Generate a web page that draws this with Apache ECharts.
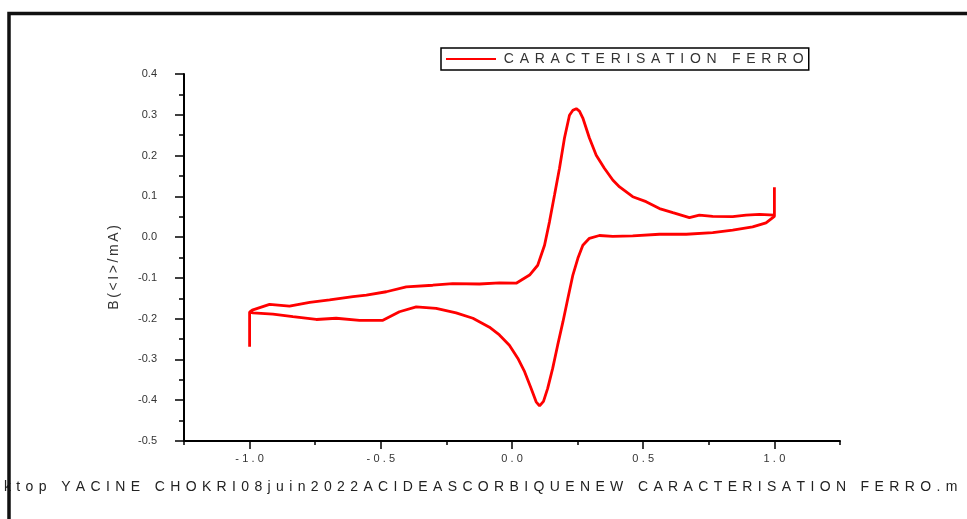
<!DOCTYPE html>
<html>
<head>
<meta charset="utf-8">
<script src="https://cdn.jsdelivr.net/npm/echarts@6.0.0/dist/echarts.min.js"></script>
<style>
  html, body { margin: 0; padding: 0; background: #fff; }
  #chart { width: 967px; height: 519px; }
</style>
</head>
<body>
<div id="chart"></div>
<script>
//--------------------- Data ---------------------------//
const seriesName = 'CARACTERISATION FERRO';
const yAxisName = 'B(<I>/mA)';
const filePath = 'ktop YACINE CHOKRI08juin2022ACIDEASCORBIQUENEW CARACTERISATION FERRO.m';

// start transient at -1.0 V
const startSpike = [[-1.0, -0.269], [-1.0, -0.184]];

// forward (anodic) scan, -1.0 -> 1.0
const forwardScan = [
  [-0.99, -0.179], [-0.924, -0.165], [-0.848, -0.169], [-0.771, -0.160],
  [-0.695, -0.154], [-0.606, -0.146], [-0.555, -0.142], [-0.479, -0.134],
  [-0.403, -0.122], [-0.302, -0.118], [-0.226, -0.114], [-0.124, -0.115],
  [-0.048, -0.112], [0.016, -0.113], [0.067, -0.093], [0.098, -0.069],
  [0.124, -0.020], [0.143, 0.038], [0.162, 0.103], [0.181, 0.169],
  [0.200, 0.243], [0.219, 0.299], [0.232, 0.311], [0.245, 0.315],
  [0.257, 0.309], [0.270, 0.292], [0.295, 0.243], [0.321, 0.201],
  [0.352, 0.169], [0.384, 0.140], [0.410, 0.123], [0.460, 0.099],
  [0.511, 0.087], [0.562, 0.070], [0.613, 0.060], [0.676, 0.048],
  [0.714, 0.054], [0.765, 0.051], [0.841, 0.050], [0.892, 0.054],
  [0.943, 0.056], [1.0, 0.054]
];

// transient at 1.0 V
const endSpike = [[1.0, 0.122], [1.0, 0.051]];

// reverse (cathodic) scan, 1.0 -> -1.0
const reverseScan = [
  [0.968, 0.035], [0.917, 0.025], [0.841, 0.017], [0.765, 0.011],
  [0.664, 0.007], [0.562, 0.007], [0.460, 0.003], [0.384, 0.002],
  [0.333, 0.004], [0.295, -0.003], [0.270, -0.020], [0.251, -0.052],
  [0.232, -0.093], [0.213, -0.150], [0.194, -0.208], [0.174, -0.265],
  [0.155, -0.322], [0.136, -0.371], [0.120, -0.403], [0.105, -0.414],
  [0.092, -0.404], [0.073, -0.371], [0.048, -0.330], [0.022, -0.297],
  [-0.010, -0.265], [-0.048, -0.240], [-0.086, -0.221], [-0.149, -0.199],
  [-0.213, -0.186], [-0.289, -0.175], [-0.365, -0.171], [-0.429, -0.183],
  [-0.492, -0.204], [-0.581, -0.204], [-0.670, -0.199], [-0.746, -0.202],
  [-0.835, -0.195], [-0.911, -0.189], [-0.987, -0.186], [-1.0, -0.184]
];

//--------------------- Helpers ---------------------------//
// wrap every character in a rich-text token so it can get side padding
function spaced(str, key) {
  return str.split('').map(c => '{' + key + '|' + c + '}').join('');
}

function fmt1(v) {
  return Math.abs(v) < 1e-9 ? '0.0' : v.toFixed(1);
}

//--------------------- Chart ---------------------------//
const chartDom = document.getElementById('chart');
const myChart = echarts.init(chartDom, null, { renderer: 'canvas' });

const axisColor = '#000';
const labelColor = '#333';
const font = 'Liberation Sans, Arial, sans-serif';

const option = {
  backgroundColor: '#fff',
  animation: false,
  grid: [
    { left: 184, right: 127, top: 74, bottom: 78 },
    { left: 249.6, right: 192.6, top: 74, bottom: 78 }
  ],
  legend: {
    left: 441,
    top: 48,
    padding: [4, 5, 4, 5],
    borderColor: '#000',
    borderWidth: 1.5,
    icon: 'rect',
    itemWidth: 50,
    itemHeight: 2,
    data: [seriesName],
    formatter: name => spaced(name, 'c'),
    textStyle: {
      color: '#333',
      fontFamily: font,
      fontSize: 14,
      rich: { c: { fontSize: 14, fontFamily: font, color: '#333', padding: [0, 2.85, 0, 2.85] } }
    }
  },
  xAxis: [
    {
      gridIndex: 0,
      type: 'value',
      min: -1.25,
      max: 1.25,
      interval: 0.25,
      axisLine: { show: true, onZero: false, lineStyle: { color: axisColor, width: 2 } },
      axisTick: { show: true, length: 4, lineStyle: { color: axisColor, width: 1.5 } },
      axisLabel: { show: false },
      splitLine: { show: false }
    },
    {
      gridIndex: 1,
      type: 'value',
      min: -1,
      max: 1,
      interval: 0.5,
      axisLine: { show: false, onZero: false },
      axisTick: { show: true, length: 8, lineStyle: { color: axisColor, width: 1.5 } },
      axisLabel: {
        margin: 12,
        color: labelColor,
        fontSize: 11,
        fontFamily: font,
        formatter: v => spaced(fmt1(v), 'x'),
        rich: { x: { fontSize: 11, fontFamily: font, color: labelColor, padding: [0, 1.6, 0, 1.6] } }
      },
      splitLine: { show: false }
    }
  ],
  yAxis: [
    {
      gridIndex: 0,
      type: 'value',
      min: -0.5,
      max: 0.4,
      interval: 0.1,
      name: spaced(yAxisName, 'n'),
      nameLocation: 'middle',
      nameGap: 63,
      nameTextStyle: {
        color: '#333',
        fontSize: 14,
        fontFamily: font,
        padding: [0, 20, 0, 0],
        rich: { n: { fontSize: 14, fontFamily: font, color: '#333', padding: [0, 1.3, 0, 1.3] } }
      },
      axisLine: { show: true, onZero: false, lineStyle: { color: axisColor, width: 2 } },
      axisTick: { show: true, length: 9, lineStyle: { color: axisColor, width: 1.5 } },
      minorTick: { show: true, splitNumber: 2, length: 5, lineStyle: { color: axisColor, width: 1.5 } },
      axisLabel: { margin: 27, color: labelColor, fontSize: 11, fontFamily: font, formatter: fmt1 },
      splitLine: { show: false }
    },
    {
      gridIndex: 1,
      type: 'value',
      min: -0.5,
      max: 0.4,
      show: false
    }
  ],
  series: [
    {
      name: seriesName,
      type: 'line',
      xAxisIndex: 0,
      yAxisIndex: 0,
      symbol: 'none',
      showSymbol: false,
      smooth: false,
      clip: false,
      lineStyle: { color: '#ff0000', width: 2.8 },
      itemStyle: { color: '#ff0000' },
      data: startSpike.concat(forwardScan, endSpike, reverseScan)
    }
  ],
  graphic: [
    {
      type: 'text',
      left: 4,
      top: 480,
      z: 10,
      style: {
        text: spaced(filePath, 'p'),
        fill: '#222',
        font: '14px ' + font,
        rich: { p: { fontSize: 14, fontFamily: font, fill: '#222', padding: [0, 2.68, 0, 2.68] } }
      }
    },
    {
      type: 'polyline',
      z: 20,
      shape: { points: [[9, 519], [9, 13.5], [967, 13.5]] },
      style: { stroke: '#111', lineWidth: 3.5, fill: null }
    }
  ]
};

option && myChart.setOption(option);
</script>
</body>
</html>
